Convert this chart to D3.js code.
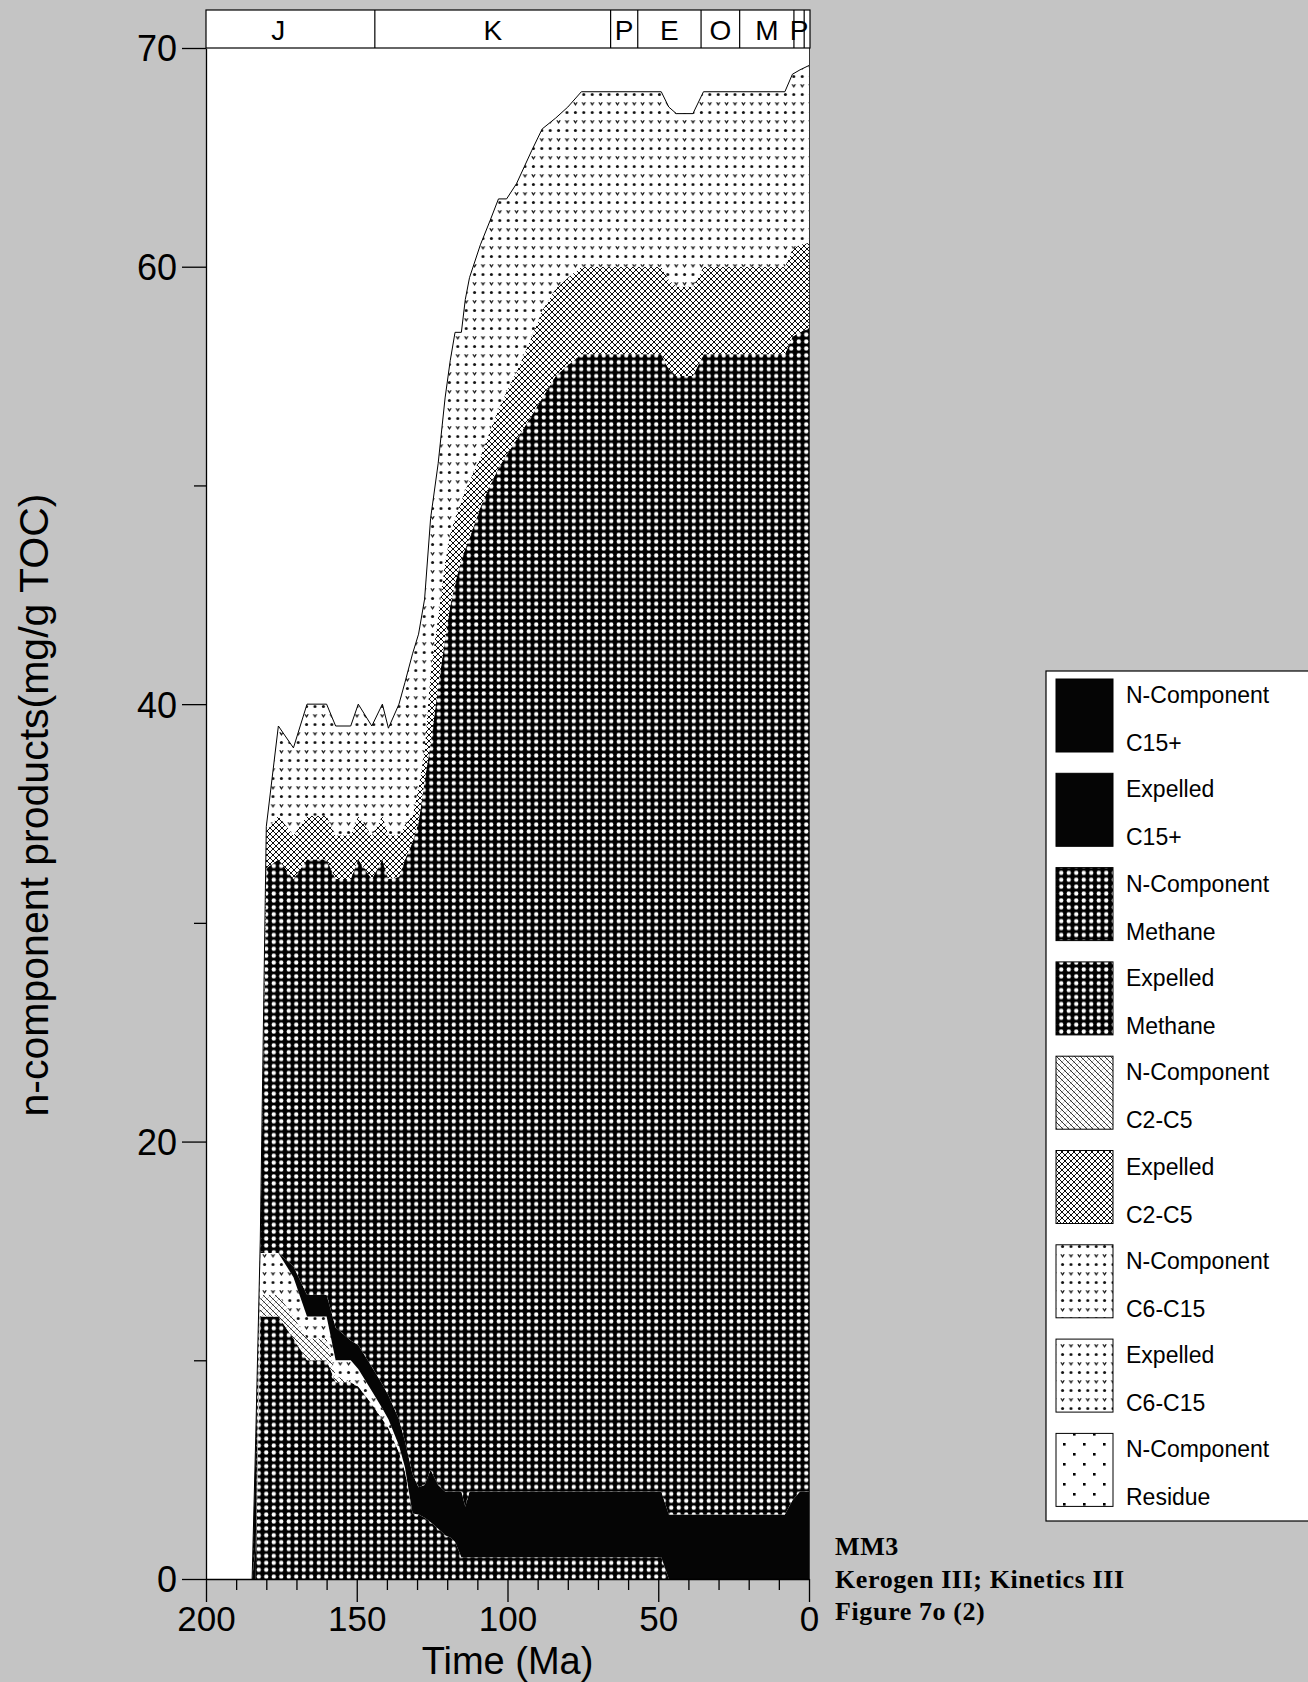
<!DOCTYPE html>
<html><head><meta charset="utf-8">
<script src="https://cdn.jsdelivr.net/npm/d3@7"></script>
<style>
html,body{margin:0;padding:0;background:#c4c4c4;}
svg{display:block;}
</style></head><body>
<svg id="chart" width="1308" height="1682"></svg>
<script>
// ---------- DATA (thickness of each stacked layer, mg/g TOC) ----------
const times = [184.7, 183.5, 182, 180, 176, 171, 166.5, 160, 157, 152, 149.5, 145, 141.5, 139.5, 136, 134, 131.5, 129.5, 127.5, 125.5, 123, 120.7, 119, 117.4, 115.3, 114, 112.6, 109, 105.8, 103, 100.3, 97, 92, 88.5, 84, 80, 75.5, 49, 46.5, 44, 38.5, 35, 8, 5.5, 3, 0];
const nMethane  = [0, 0, 12.0, 12.0, 12.0, 11.0, 10.0, 10.0, 9.0, 9.0, 8.8, 8.0, 7.3, 6.9, 5.8, 4.9, 3.0, 2.95, 2.8, 2.6, 2.3, 2.0, 1.9, 1.7, 1.0, 1.0, 1.0, 1.0, 1.0, 1.0, 1.0, 1.0, 1.0, 1.0, 1.0, 1.0, 1.0, 1.0, 0, 0, 0, 0, 0, 0, 0, 0];
const nC2C5     = [0, 0, 1.0, 1.0, 1.0, 1.0, 1.0, 1.0, 0.3, 0, 0, 0, 0, 0, 0, 0, 0, 0, 0, 0, 0, 0, 0, 0, 0, 0, 0, 0, 0, 0, 0, 0, 0, 0, 0, 0, 0, 0, 0, 0, 0, 0, 0, 0, 0, 0];
const nC6C15    = [0, 0, 1.9, 1.9, 1.9, 1.8, 1.0, 1.0, 0.7, 1.0, 0.8, 0.6, 0.5, 0.4, 0.3, 0.2, 0, 0, 0, 0, 0, 0, 0, 0, 0, 0, 0, 0, 0, 0, 0, 0, 0, 0, 0, 0, 0, 0, 0, 0, 0, 0, 0, 0, 0, 0];
const nC15      = [0, 1.5, 0.1, 0, 0, 0.5, 1.0, 1.0, 1.5, 0.9, 1.1, 1.1, 1.1, 1.1, 1.2, 1.2, 1.8, 1.25, 1.5, 2.4, 2.0, 2.0, 2.1, 2.3, 3.0, 2.3, 3.0, 3.0, 3.0, 3.0, 3.0, 3.0, 3.0, 3.0, 3.0, 3.0, 3.0, 3.0, 2.95, 2.95, 2.95, 2.95, 2.95, 3.6, 4.0, 4.0];
const expMethane= [0, 4.8, 0.3, 17.6, 18.0, 17.7, 19.9, 19.9, 20.5, 21.1, 22.2, 22.3, 24.0, 23.6, 24.8, 26.6, 28.9, 30.4, 32.2, 33.2, 36.5, 39.0, 40.5, 41.5, 42.6, 43.8, 43.6, 45.0, 46.0, 46.8, 47.4, 48.1, 49.2, 50.0, 51.0, 51.5, 52.0, 52.0, 52.35, 52.05, 52.05, 53.05, 53.05, 53.2, 53.0, 53.2];
const expC2C5   = [0, 0.1, 0.1, 1.7, 2.0, 2.0, 2.0, 2.0, 2.0, 2.0, 2.0, 2.0, 2.0, 2.0, 1.9, 1.6, 1.2, 1.6, 1.4, 3.3, 3.2, 3.5, 3.3, 3.0, 2.7, 2.7, 2.6, 2.3, 2.5, 2.7, 2.9, 3.1, 3.6, 4.0, 4.0, 4.0, 4.0, 4.0, 4.1, 4.1, 4.1, 4.0, 4.0, 4.0, 4.0, 3.9];
const expC6C15  = [0, 0.1, 0.1, 0.2, 4.1, 4.0, 5.1, 5.1, 5.0, 5.0, 5.1, 5.0, 5.1, 4.9, 6.0, 6.5, 7.4, 7.0, 6.9, 7.0, 7.0, 7.5, 7.9, 8.5, 7.7, 8.7, 9.3, 9.7, 9.6, 9.6, 8.8, 8.6, 8.5, 8.3, 7.8, 7.8, 8.0, 8.0, 7.9, 7.9, 7.9, 8.0, 8.0, 8.0, 8.0, 8.1];
const expC15    = [0, 0, 0, 0, 0, 0, 0, 0, 0, 0, 0, 0, 0, 0, 0, 0, 0, 0, 0, 0, 0, 0, 0, 0, 0, 0, 0, 0, 0, 0, 0, 0, 0, 0, 0, 0, 0, 0, 0, 0, 0, 0, 0, 0, 0, 0];
const nResidue  = [0, 0, 0, 0, 0, 0, 0, 0, 0, 0, 0, 0, 0, 0, 0, 0, 0, 0, 0, 0, 0, 0, 0, 0, 0, 0, 0, 0, 0, 0, 0, 0, 0, 0, 0, 0, 0, 0, 0, 0, 0, 0, 0, 0, 0, 0];

const xMajorTicks = [200, 150, 100, 50, 0];
const xMinorTicks = [190, 180, 170, 160, 140, 130, 120, 110, 90, 80, 70, 60, 40, 30, 20, 10];
const yMajorTicks = [0, 20, 40, 60, 70];
const yMinorTicks = [10, 30, 50];
const periodNames  = ["J", "K", "P", "E", "O", "M", "P"];
const periodStarts = [208, 144, 65.8, 56.8, 35.8, 23, 5];
const periodEnds   = [144, 65.8, 56.8, 35.8, 23, 5, 1.6];
const extraBoundaries = [1.6];
const legendLine1 = ["N-Component","Expelled","N-Component","Expelled","N-Component","Expelled","N-Component","Expelled","N-Component"];
const legendLine2 = ["C15+","C15+","Methane","Methane","C2-C5","C2-C5","C6-C15","C6-C15","Residue"];
const notes = ["MM3", "Kerogen III; Kinetics III", "Figure 7o (2)"];

// ---------- SETUP ----------
const svg = d3.select("#chart");
const SANS = "'Liberation Sans', Arial, Helvetica, sans-serif";
const SERIF = "'Liberation Serif', 'Times New Roman', serif";
const x = d3.scaleLinear().domain([200, 0]).range([206, 809]);
const y = d3.scaleLinear().domain([0, 70]).range([1579, 48]);

svg.append("rect").attr("width",1308).attr("height",1682).attr("fill","#c4c4c4");

// ---------- PATTERNS ----------
const defs = svg.append("defs");
function pat(id, w, h){ return defs.append("pattern").attr("id",id).attr("patternUnits","userSpaceOnUse").attr("width",w).attr("height",h); }
let p;
p = pat("pBlack", 10, 10); p.append("rect").attr("width",10).attr("height",10).attr("fill","#050505");
p = pat("pMethane", 7.5, 6.9);
p.append("rect").attr("width",7.5).attr("height",6.9).attr("fill","#000");
p.append("circle").attr("cx",3.75).attr("cy",3.45).attr("r",2.15).attr("fill","#fff");
p = pat("pHatch", 6, 6);
p.append("rect").attr("width",6).attr("height",6).attr("fill","#fff");
p.append("path").attr("d","M0,0L6,6M-1,5L1,7M5,-1L7,1").attr("stroke","#000").attr("stroke-width",0.8);
p.append("path").attr("d","M6,0L0,6M-1,1L1,-1M5,7L7,5").attr("stroke","#555").attr("stroke-width",0.35);
p = pat("pCross", 6, 6);
p.append("rect").attr("width",6).attr("height",6).attr("fill","#fff");
p.append("path").attr("d","M0,0L6,6M6,0L0,6").attr("stroke","#000").attr("stroke-width",0.95);
p = pat("pLight", 8.4, 18);
p.append("rect").attr("width",8.4).attr("height",18).attr("fill","#fff");
p.append("circle").attr("cx",4.2).attr("cy",4.5).attr("r",1.5).attr("fill","#111");
p.append("path").attr("d","M2.6,12.2L4.2,14.8L5.8,12.2").attr("stroke","#111").attr("stroke-width",1.2).attr("fill","none");
p = pat("pResidue", 20, 20);
p.append("rect").attr("width",20).attr("height",20).attr("fill","#fff");
p.append("rect").attr("x",3).attr("y",3).attr("width",2.6).attr("height",2.6).attr("fill","#000");
p.append("rect").attr("x",13).attr("y",13).attr("width",2.6).attr("height",2.6).attr("fill","#000");

// ---------- PLOT AREA ----------
svg.append("rect").attr("x",206).attr("y",48).attr("width",603).attr("height",1531).attr("fill","#fff");
defs.append("clipPath").attr("id","plotClip").append("rect").attr("x",206).attr("y",48).attr("width",603).attr("height",1531);

const keys = ["nMethane","nC2C5","nC6C15","nC15","expMethane","expC2C5","expC6C15","expC15","nResidue"];
const series = {nMethane, nC2C5, nC6C15, nC15, expMethane, expC2C5, expC6C15, expC15, nResidue};
const fills = {nMethane:"pMethane", nC2C5:"pHatch", nC6C15:"pLight", nC15:"pBlack", expMethane:"pMethane", expC2C5:"pCross", expC6C15:"pLight", expC15:"pBlack", nResidue:"pResidue"};
const rows = times.map((t,i)=>{ const r = {t}; keys.forEach(k=>r[k]=series[k][i]); return r; });
const stacked = d3.stack().keys(keys)(rows);
const area = d3.area().x(d=>x(d.data.t)).y0(d=>y(d[0])).y1(d=>y(d[1]));
const gData = svg.append("g").attr("clip-path","url(#plotClip)");
gData.selectAll("path.layer").data(stacked).join("path").attr("class","layer")
  .attr("d", area).attr("fill", d=>`url(#${fills[d.key]})`).attr("stroke","none");
const topLine = d3.line().x(d=>x(d.data.t)).y(d=>y(d[1]));
gData.append("path").attr("d", topLine(stacked[stacked.length-1])).attr("fill","none").attr("stroke","#000").attr("stroke-width",1);

svg.append("line").attr("x1",809.5).attr("x2",809.5).attr("y1",48).attr("y2",1579).attr("stroke","#333").attr("stroke-width",1);

// ---------- AXES ----------
const gxMinor = svg.append("g").attr("transform",`translate(0,${y(0)})`)
  .call(d3.axisBottom(x).tickValues(xMinorTicks).tickSize(11).tickFormat(""));
gxMinor.select(".domain").remove();
const gx = svg.append("g").attr("transform",`translate(0,${y(0)})`)
  .call(d3.axisBottom(x).tickValues(xMajorTicks).tickSize(23).tickSizeOuter(0).tickFormat(d3.format("d")));
gx.selectAll("text").attr("y",52).attr("dy",null).attr("font-family",SANS).attr("font-size",35).attr("fill","#000");

const gyMinor = svg.append("g").attr("transform",`translate(${x(200)},0)`)
  .call(d3.axisLeft(y).tickValues(yMinorTicks).tickSize(12).tickFormat(""));
gyMinor.select(".domain").remove();
const gy = svg.append("g").attr("transform",`translate(${x(200)},0)`)
  .call(d3.axisLeft(y).tickValues(yMajorTicks).tickSize(24).tickSizeOuter(0).tickFormat(d3.format("d")));
gy.selectAll("text").attr("x",-29).attr("dy","0.36em").attr("font-family",SANS).attr("font-size",36).attr("fill","#000");
svg.selectAll(".domain, .tick line").attr("stroke","#000").attr("stroke-width",1.3);

svg.append("text").attr("x", (x(200)+x(0))/2).attr("y",1674).attr("text-anchor","middle")
  .attr("font-family",SANS).attr("font-size",38).text("Time (Ma)");
svg.append("text").attr("transform",`translate(48,805) rotate(-90)`).attr("text-anchor","middle")
  .attr("font-family",SANS).attr("font-size",41).text("n-component products(mg/g TOC)");

// ---------- GEOLOGIC PERIOD HEADER ----------
const gh = svg.append("g");
gh.append("rect").attr("x",206).attr("y",10).attr("width",604).attr("height",38).attr("fill","#fff").attr("stroke","#000").attr("stroke-width",1.2);
periodStarts.slice(1).concat(extraBoundaries).forEach(b=>{
  gh.append("line").attr("x1",x(b)).attr("x2",x(b)).attr("y1",10).attr("y2",48).attr("stroke","#000").attr("stroke-width",1.2);
});
periodNames.forEach((n,i)=>{
  gh.append("text").attr("x", x((periodStarts[i]+periodEnds[i])/2)).attr("y",40).attr("text-anchor","middle")
    .attr("font-family",SANS).attr("font-size",28).text(n);
});

// ---------- LEGEND ----------
const lg = svg.append("g");
lg.append("rect").attr("x",1046).attr("y",671).attr("width",280).attr("height",850).attr("fill","#fff").attr("stroke","#000").attr("stroke-width",1.2);
const legendFills = ["pBlack","pBlack","pMethane","pMethane","pHatch","pCross","pLight","pLight","pResidue"];
legendLine1.forEach((l1,i)=>{
  const sy = 679 + i*94.3;
  lg.append("rect").attr("x",1056).attr("y",sy).attr("width",57).attr("height",73)
    .attr("fill",`url(#${legendFills[i]})`).attr("stroke","#000").attr("stroke-width",1);
  lg.append("text").attr("x",1126).attr("y",sy+24).attr("font-family",SANS).attr("font-size",23).text(l1);
  lg.append("text").attr("x",1126).attr("y",sy+72).attr("font-family",SANS).attr("font-size",23).text(legendLine2[i]);
});

// ---------- NOTES ----------
notes.forEach((t,i)=>{
  svg.append("text").attr("x",835).attr("y",1555 + i*32.5).attr("font-family",SERIF).attr("font-weight","bold")
    .attr("font-size",26).attr("letter-spacing",0.6).text(t);
});
</script>
</body></html>
